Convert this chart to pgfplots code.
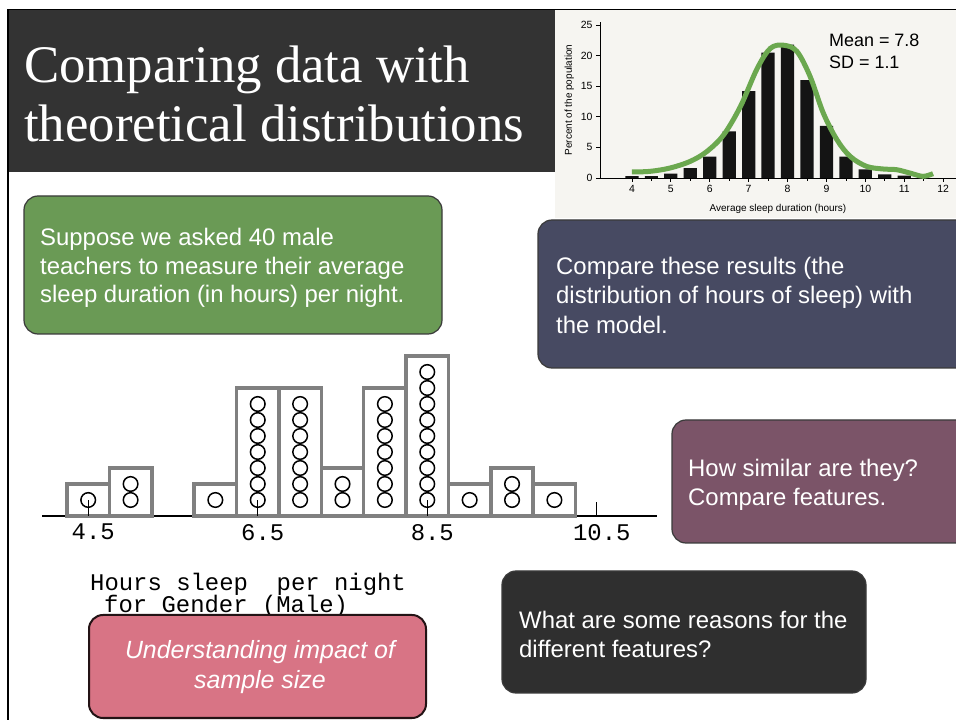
\documentclass[border=0pt]{standalone}
\usepackage{pgfplots}
\pgfplotsset{compat=1.18}
\usepackage{fontspec}
\setmainfont{Liberation Sans}
\newfontfamily\serif{Liberation Serif}
\newfontfamily\mono{Liberation Mono}
\definecolor{titlebg}{HTML}{333333}
\definecolor{grn}{HTML}{6A9A55}
\definecolor{slate}{HTML}{474A62}
\definecolor{mauve}{HTML}{7B5468}
\definecolor{darkbox}{HTML}{2F2F2F}
\definecolor{pinkbox}{HTML}{D87485}
\definecolor{curvegreen}{HTML}{6BA84F}
\definecolor{imgbg}{HTML}{F6F5F1}
\definecolor{boxline}{HTML}{3A3A3A}
\begin{document}
\begin{tikzpicture}
\path[use as bounding box] (0bp,0bp) rectangle (956bp,720bp);
\clip (0bp,0bp) rectangle (956bp,720bp);
\begin{scope}[x=1bp,y=1bp]
\fill[white] (0,0) rectangle (956,720);
% image region of the model histogram
\fill[imgbg] (555,502) rectangle (956,710);
% title
\fill[titlebg] (8,548) rectangle (555,710);
\draw[black,line width=1.5bp] (8,0) -- (8,710.5) -- (956,710.5);
\node[anchor=base west,text=white,font=\serif\fontsize{53}{60}\selectfont,inner sep=0] at (24,637) {Comparing data with};
\node[anchor=base west,text=white,font=\serif\fontsize{53}{60}\selectfont,inner sep=0] at (24,578) {theoretical distributions};
\end{scope}

% model histogram
\begin{axis}[
  at={(600bp,542bp)}, anchor=south west,
  width=356bp, height=156bp, scale only axis,
  xmin=3.18, xmax=12.33, ymin=0, ymax=25.5,
  axis x line=bottom, axis y line=left,
  axis line style={-, black, line width=0.8bp},
  xtick={4,5,...,12}, minor xtick={4.5,5.5,...,11.5},
  ytick={0,5,...,25},
  tick align=outside, major tick length=4bp, minor tick length=3bp,
  tick style={black, line width=0.7bp},
  /pgf/number format/assume math mode=true,
  ticklabel style={font=\fontsize{10.5}{12}\selectfont},
  xlabel={Average sleep duration (hours)}, ylabel={Percent of the population},
  label style={font=\fontsize{10}{12}\selectfont},
  xlabel style={yshift=-5bp},
  clip=false,
]
\addplot[ybar, bar width=0.34, fill=black!92, draw=none] coordinates {
(4,0.3) (4.5,0.3) (5,0.7) (5.5,1.6) (6,3.5) (6.5,7.6) (7,14.2) (7.5,20.5)
(8,21.8) (8.5,16.0) (9,8.5) (9.5,3.5) (10,1.4) (10.5,0.6) (11,0.4)};
\addplot[curvegreen, line width=5bp, smooth, tension=0.55] coordinates {
(4.0,0.98) (4.47,1.09) (4.98,1.63) (5.50,2.72) (5.93,4.35) (6.36,7.07)
(6.79,11.7) (7.22,17.9) (7.56,21.2) (7.90,21.7) (8.24,20.7) (8.58,16.6)
(8.92,10.6) (9.27,6.25) (9.61,3.53) (10.03,1.90) (10.46,1.47) (10.80,1.36)
(11.14,0.82) (11.48,0.27) (11.74,0.71)};
\end{axis}

% dot plot of the sample
\begin{axis}[
  at={(42bp,204bp)}, anchor=south west,
  width=615bp, height=168bp, scale only axis,
  xmin=3.955, xmax=11.21, ymin=0, ymax=10.5,
  axis x line=bottom, axis y line=none,
  axis line style={-, black, line width=1.6bp},
  xtick={4.5,6.5,8.5,10.5}, xticklabels={4.5,6.5,8.5,10.5},
  tick align=inside, major tick length=14bp,
  tick style={black, line width=1.3bp},
  xticklabel style={font=\mono\fontsize{24}{24}\selectfont, inner sep=1bp, yshift=-7bp, xshift=5bp},
  clip=false,
]
\addplot[ybar, bar width=0.5, fill=white, draw=gray, line width=3.5bp] coordinates {
(4.5,2) (5,3) (6,2) (6.5,8) (7,8) (7.5,3) (8,8) (8.5,10) (9,2) (9.5,3) (10,2)};
\addplot[black, line width=1.3bp] coordinates {(4.5,0) (4.5,1)};
\addplot[black, line width=1.3bp] coordinates {(6.5,0) (6.5,1)};
\addplot[black, line width=1.3bp] coordinates {(8.5,0) (8.5,1)};
\addplot[only marks, mark=o, mark size=7.3bp, mark options={black, line width=1.5bp}] coordinates {
(4.5,1)
(5,1) (5,2)
(6,1)
(6.5,1) (6.5,2) (6.5,3) (6.5,4) (6.5,5) (6.5,6) (6.5,7)
(7,1) (7,2) (7,3) (7,4) (7,5) (7,6) (7,7)
(7.5,1) (7.5,2)
(8,1) (8,2) (8,3) (8,4) (8,5) (8,6) (8,7)
(8.5,1) (8.5,2) (8.5,3) (8.5,4) (8.5,5) (8.5,6) (8.5,7) (8.5,8) (8.5,9)
(9,1)
(9.5,1) (9.5,2)
(10,1)};
\end{axis}

\begin{scope}[x=1bp,y=1bp]
\node[anchor=base west,font=\fontsize{18}{20}\selectfont,inner sep=0] at (829,673) {Mean = 7.8};
\node[anchor=base west,font=\fontsize{18}{20}\selectfont,inner sep=0] at (829,651) {SD = 1.1};

% green box
\draw[boxline,line width=1.2bp,fill=grn,rounded corners=14bp] (24,386) rectangle (442,524);
\begin{scope}[every node/.style={anchor=base west,text=white,font=\fontsize{24}{29}\selectfont,inner sep=0}]
\node at (40,474) {Suppose we asked 40 male};
\node at (40,445) {teachers to measure their average};
\node at (40,417) {sleep duration (in hours) per night.};
\end{scope}

% slate box
\draw[boxline,line width=1.2bp,fill=slate,rounded corners=14bp] (538,352) rectangle (975,500);
\begin{scope}[every node/.style={anchor=base west,text=white,font=\fontsize{24}{29}\selectfont,inner sep=0}]
\node at (556,445) {Compare these results (the};
\node at (556,416) {distribution of hours of sleep) with};
\node at (556,387) {the model.};
\end{scope}

% mauve box
\draw[boxline,line width=1.2bp,fill=mauve,rounded corners=14bp] (672,177) rectangle (975,300);
\begin{scope}[every node/.style={anchor=base west,text=white,font=\fontsize{24}{29}\selectfont,inner sep=0}]
\node at (688,244) {How similar are they?};
\node at (688,215) {Compare features.};
\end{scope}

% dark box
\draw[boxline,line width=1.2bp,fill=darkbox,rounded corners=14bp] (502,27) rectangle (866,149);
\begin{scope}[every node/.style={anchor=base west,text=white,font=\fontsize{24}{29}\selectfont,inner sep=0}]
\node at (519,92) {What are some reasons for the};
\node at (519,63) {different features?};
\end{scope}

\node[anchor=base west,font=\mono\fontsize{24}{24}\selectfont,inner sep=0] at (90,130) {Hours sleep\ \ per night};
\node[anchor=base west,font=\mono\fontsize{24}{24}\selectfont,inner sep=0] at (104,108) {for Gender (Male)};

% pink box
\draw[black!60!pinkbox!40!black,line width=2bp,fill=pinkbox,rounded corners=14bp] (89,2) rectangle (426,105);
\node[anchor=base,text=white,font=\itshape\fontsize{25}{30}\selectfont,inner sep=0] at (260,62) {Understanding impact of};
\node[anchor=base,text=white,font=\itshape\fontsize{25}{30}\selectfont,inner sep=0] at (260,32) {sample size};
\end{scope}
\end{tikzpicture}
\end{document}
